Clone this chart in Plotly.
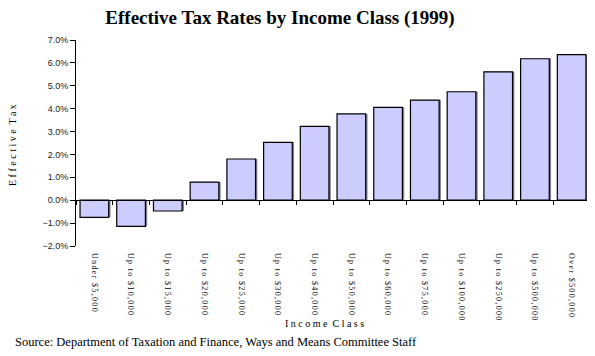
import plotly.graph_objects as go

categories = ["Under $5,000", "Up to $10,000", "Up to $15,000", "Up to $20,000",
              "Up to $25,000", "Up to $30,000", "Up to $40,000", "Up to $50,000",
              "Up to $60,000", "Up to $75,000", "Up to $100,000", "Up to $250,000",
              "Up to $500,000", "Over $500,000"]
rates = [-0.0075, -0.0114, -0.0047, 0.0079, 0.0180, 0.0253, 0.0323, 0.0377,
         0.0406, 0.0437, 0.0474, 0.0561, 0.0618, 0.0636]
y_ticks = [-0.02, -0.01, 0.0, 0.01, 0.02, 0.03, 0.04, 0.05, 0.06, 0.07]

# page has an 8px body margin; lay out in page coordinates and compensate
OFF = 8
W, H = 595 - OFF, 356 - OFF
PL, PT, PR, PB = 76, 40, 590, 246          # plot area in page pixels
L, T = PL - OFF, PT - OFF
R, B = W - (PR - OFF), H - (PB - OFF)
pw, ph = PR - PL, PB - PT

def px(x):
    return (x - PL) / pw

def py(y):
    return (PB - y) / ph

serif = "Liberation Serif"
sp = "\u2006"
spaced = [sp.join(list(c)) for c in categories]
BW = 0.78

fig = go.Figure()
# shadow behind bars
fig.add_trace(go.Bar(
    x=categories, y=rates, width=BW, offset=-BW / 2 + 0.05,
    marker=dict(color="#7f7f8f", line=dict(width=0)),
    showlegend=False, hoverinfo="skip",
))
fig.add_trace(go.Bar(
    x=categories, y=rates, width=BW, offset=-BW / 2,
    marker=dict(color="#CCCCFF", line=dict(color="#000000", width=1.2)),
    showlegend=False,
))
# invisible trace on overlay axis for category tick marks at zero
fig.add_trace(go.Scatter(x=categories, y=[0]*len(categories), xaxis="x2",
                         mode="markers", marker=dict(opacity=0),
                         showlegend=False, hoverinfo="skip"))

n = len(categories)
fig.update_layout(
    width=W, height=H,
    margin=dict(l=L, r=R, t=T, b=B, autoexpand=False),
    paper_bgcolor="white", plot_bgcolor="white",
    barmode="overlay",
    title=dict(text="<b>Effective Tax Rates by Income Class (1999)</b>",
               font=dict(family=serif, size=19, color="#000"),
               xref="container", x=(280 - OFF) / W, xanchor="center",
               yref="container", y=1 - (17 - OFF) / H, yanchor="middle",
               automargin=False),
    xaxis=dict(type="category", tickangle=90, showline=False, ticks="",
               tickvals=categories, ticktext=spaced, ticklabelstandoff=6,
               range=[-0.5, n - 0.5], automargin=False,
               tickfont=dict(family=serif, size=8, color="#000"),
               showgrid=False, zeroline=False),
    xaxis2=dict(type="category", overlaying="x", anchor="free",
                position=(0 - (-0.02)) / 0.09, side="bottom",
                range=[-0.5, n - 0.5], automargin=False,
                showline=True, linecolor="#000", linewidth=1,
                ticks="outside", ticklen=4, tickcolor="#000",
                tickson="boundaries", showticklabels=False, showgrid=False),
    yaxis=dict(range=[-0.02, 0.07], tickvals=y_ticks, tickformat=".1%",
               showline=True, linecolor="#000", linewidth=1, automargin=False,
               ticks="outside", ticklen=5, tickcolor="#000",
               tickfont=dict(family="Liberation Sans", size=9, color="#222"),
               showgrid=False, zeroline=False),
    annotations=[
        dict(text="E f f e c t i v e  T a x", textangle=-90, x=px(12), y=py(145),
             xanchor="center", yanchor="middle",
             xref="paper", yref="paper", showarrow=False,
             font=dict(family=serif, size=10, color="#000")),
        dict(text="I n c o m e  C l a s s", x=px(324), y=py(323),
             xanchor="center", yanchor="middle",
             xref="paper", yref="paper", showarrow=False,
             font=dict(family=serif, size=10, color="#000")),
        dict(text="Source: Department of Taxation and Finance, Ways and Means Committee Staff",
             x=px(13), y=py(342), xanchor="left", yanchor="middle",
             xref="paper", yref="paper", showarrow=False,
             font=dict(family=serif, size=12.5, color="#000")),
    ],
)

fig.write_html("out.html")
